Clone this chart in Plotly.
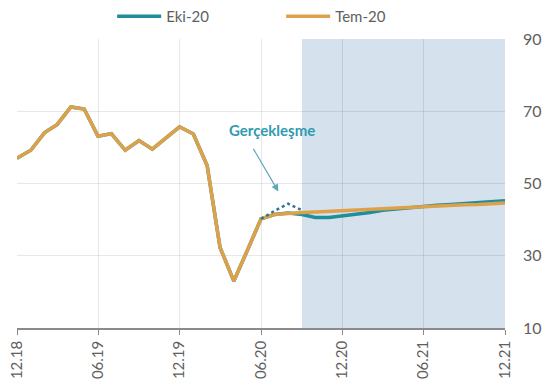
import pandas as pd
import plotly.graph_objects as go

# Monthly index, Dec 2018 .. Dec 2021
months = pd.date_range("2018-12-01", "2021-12-01", freq="MS")

# Shared history (Dec 2018 .. Aug 2020)
history = [57.0, 59.2, 64.1, 66.3, 71.2, 70.6, 63.1, 63.8, 59.2, 61.9, 59.5, 62.6,
           65.7, 63.7, 55.0, 32.3, 23.0, 31.4, 40.2, 41.4, 41.8]

# July 2020 forecast path (Sep 2020 .. Dec 2021)
tem20_fc = [42.0, 42.1, 42.3, 42.4, 42.6, 42.8, 43.0, 43.2, 43.4, 43.6, 43.8,
            43.9, 44.1, 44.2, 44.4, 44.6]
# October 2020 forecast path (Sep 2020 .. Dec 2021)
eki20_fc = [41.4, 40.6, 40.6, 41.0, 41.5, 42.0, 42.6, 43.0, 43.4, 43.7, 44.0,
            44.2, 44.4, 44.6, 44.9, 45.2]

# Realised values (Jun 2020 .. Sep 2020)
actual_months = pd.date_range("2020-06-01", "2020-09-01", freq="MS")
actual_vals = [40.2, 42.4, 44.4, 42.6]

tem20 = history + tem20_fc
eki20 = history + eki20_fc

shade_start = "2020-09-01"
shade_end = "2021-12-01"

TEAL = "#1f8e9c"
ORANGE = "#dda14a"
FONT = "Lato, 'Open Sans', sans-serif"

fig = go.Figure()

fig.add_trace(go.Scatter(x=months, y=eki20, mode="lines", name="Eki-20",
                         line=dict(color=TEAL, width=3.5)))
fig.add_trace(go.Scatter(x=months, y=tem20, mode="lines", name="Tem-20",
                         line=dict(color=ORANGE, width=3.5)))
fig.add_trace(go.Scatter(x=actual_months, y=actual_vals, mode="lines",
                         showlegend=False,
                         line=dict(color="#2f7897", width=2.5, dash="dot")))

fig.add_shape(type="rect", xref="x", yref="paper",
              x0=shade_start, x1=shade_end, y0=0, y1=1,
              fillcolor="#d6e1ee", line=dict(width=0), layer="below")

fig.add_annotation(x=pd.Timestamp("2020-07-10"), y=47.8,
                   ax=pd.Timestamp("2020-05-13"), ay=60.0,
                   axref="x", ayref="y",
                   text="", showarrow=True, arrowhead=2, arrowsize=1.2,
                   arrowwidth=1.2, arrowcolor="#5fa8b8")
fig.add_annotation(x=pd.Timestamp("2020-06-26"), y=64.7, text="<b>Gerçekleşme</b>",
                   showarrow=False, font=dict(family=FONT, size=15, color="#2f9bb1"))

fig.update_layout(
    width=549, height=390,
    margin=dict(l=17, r=44, t=39, b=62, autoexpand=False),
    paper_bgcolor="white", plot_bgcolor="white",
    font=dict(family=FONT, size=14, color="#606060"),
    showlegend=True,
    legend=dict(orientation="h", x=0.195, xanchor="left", y=1.0, yanchor="top",
                yref="container", font=dict(size=15, color="#606060"),
                itemwidth=44, entrywidth=110, bgcolor="rgba(0,0,0,0)"),
)

fig.update_xaxes(
    range=[months[0], months[-1]],
    tickvals=months[::6], tickformat="%m.%y", tickangle=-90,
    tickfont=dict(size=15, color="#606060"),
    showgrid=True, gridcolor="rgba(0,0,0,0.09)", gridwidth=1,
    showline=True, linecolor="#8a8a8a", linewidth=1.5,
    ticks="outside", ticklen=5, tickcolor="#8a8a8a",
    zeroline=False,
)
fig.update_yaxes(
    range=[10, 90], tickvals=[10, 30, 50, 70, 90], side="right",
    tickfont=dict(size=16, color="#606060"),
    showgrid=True, gridcolor="rgba(0,0,0,0.09)", gridwidth=1,
    ticks="", zeroline=False, ticklabelstandoff=17,
)

fig.write_html("out.html")
